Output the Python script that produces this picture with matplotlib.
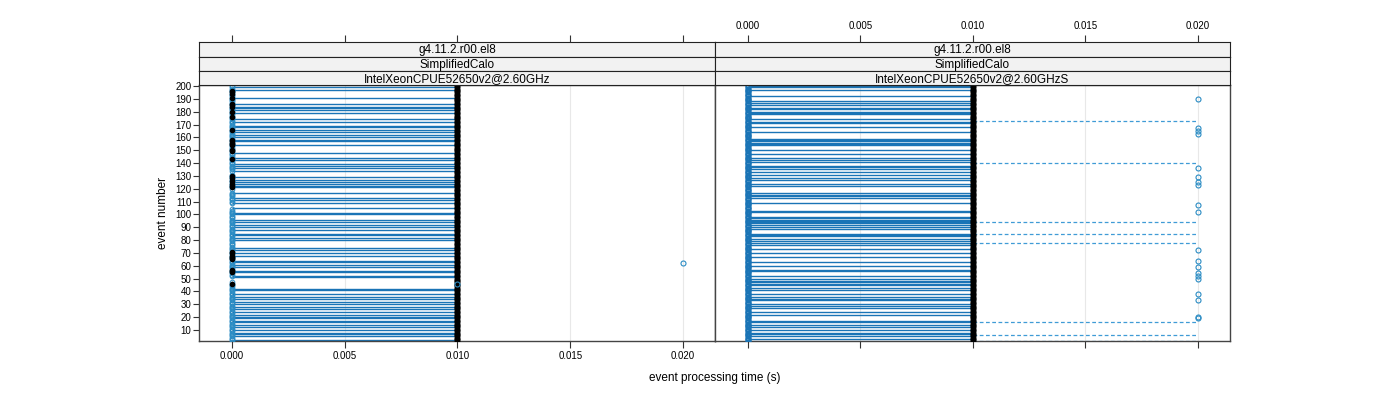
import numpy as np
import matplotlib.pyplot as plt

plt.rcParams['font.family'] = ['Liberation Sans', 'DejaVu Sans']

# ---- data ----
events = list(range(1, 201))
strip_labels = [
    ["g4.11.2.r00.el8", "SimplifiedCalo", "IntelXeonCPUE52650v2@2.60GHz"],
    ["g4.11.2.r00.el8", "SimplifiedCalo", "IntelXeonCPUE52650v2@2.60GHzS"],
]
xticks = [0.000, 0.005, 0.010, 0.015, 0.020]
yticks = list(range(10, 201, 10))

# left panel
left_line_events = [199, 197, 191, 186, 184, 183, 181, 179, 174, 172, 169, 168, 166, 164,
                    162, 160, 158, 157, 154, 148, 144, 142, 139, 138, 136, 134, 129, 127,
                    125, 124, 122, 121, 117, 113, 111, 109, 105, 101, 100, 96, 94, 92, 90,
                    88, 85, 84, 82, 80, 74, 72, 70, 68, 64, 63, 61, 59, 56, 55, 52, 51,
                    42, 41, 38, 36, 34, 32, 30, 28, 26, 24, 22, 20, 19, 17, 16, 14, 12,
                    10, 8, 7, 5, 2]
left_blue_gaps = [132, 133, 118, 119, 105, 106, 107, 108, 48, 49, 50, 51]
left_black_zero = [196, 195, 194, 191, 186, 185, 184, 180, 176, 166, 158, 157, 156, 155,
                   154, 150, 149, 143, 130, 128, 126, 124, 122, 121, 71, 70, 68, 67, 66,
                   65, 57, 56, 55, 46]
left_out_x = [0.020, 0.010]
left_out_y = [62, 46]

# right panel
right_line_events = [200, 199, 197, 192, 188, 187, 185, 183, 182, 180, 179, 178, 174, 172,
                     171, 168, 164, 159, 158, 157, 156, 155, 154, 150, 147, 144, 142, 141,
                     138, 137, 135, 133, 131, 128, 127, 124, 122, 117, 115, 114, 113, 109,
                     103, 102, 98, 97, 96, 95, 94, 93, 92, 90, 89, 85, 84, 83, 81, 79, 78,
                     76, 73, 70, 67, 63, 60, 57, 56, 52, 50, 48, 47, 46, 45, 43, 41, 38,
                     36, 34, 33, 30, 29, 27, 24, 22, 17, 16, 14, 12, 10, 8, 7, 5, 3]
right_dashed_events = [173, 140, 94, 85, 78, 16, 6, 1.5]
right_out_y = [190, 167, 165, 163, 136, 129, 125, 123, 107, 102, 72, 64, 59, 54, 52, 50,
               38, 33, 20, 19]

# ---- layout (pixel boxes of the reference) ----
W, H = 1400, 400


def box(x0, y0, x1, y1):
    return [x0 / W, 1 - y1 / H, (x1 - x0) / W, (y1 - y0) / H]


LINE = '#1a74b6'
PT = '#2b8cc4'
FRAME = '#444444'
XLIM = (-0.00146, 0.02142)
YLIM = (1.43, 200.78)

fig = plt.figure(figsize=(14, 4), dpi=100)

panel_x = [(199, 715), (715, 1230)]
strip_y = [(42, 56.7), (56.7, 71), (71, 85)]
axes = []
for i, (x0, x1) in enumerate(panel_x):
    ax = fig.add_axes(box(x0, 85, x1, 341))
    ax.set_xlim(XLIM)
    ax.set_ylim(YLIM)
    for xv in xticks:
        ax.axvline(xv, color='#e8e8e8', lw=0.8, zorder=0)
    for s in ax.spines.values():
        s.set_color(FRAME)
        s.set_linewidth(1.0)
    ax.set_xticks(xticks)
    ax.tick_params(axis='x', direction='out', length=5, width=0.8, color='#333333',
                   labelsize=7, pad=2, top=False, bottom=True, labelbottom=(i == 0))
    if i == 0:
        ax.set_yticks(yticks)
        ax.tick_params(axis='y', direction='out', length=4, width=0.8, color='#333333',
                       labelsize=7, pad=1.5)
    else:
        ax.set_yticks([])
    ax.set_xticklabels(['%.3f' % v for v in xticks])
    axes.append(ax)

    # strips
    for j, (y0, y1) in enumerate(strip_y):
        sa = fig.add_axes(box(x0, y0, x1, y1))
        sa.set_facecolor('#f2f2f2')
        sa.set_xticks([])
        sa.set_yticks([])
        for s in sa.spines.values():
            s.set_color('#222222')
            s.set_linewidth(0.8)
        sa.text(0.5, 0.45, strip_labels[i][j], ha='center', va='center', fontsize=8.5,
                transform=sa.transAxes)

    # top tick marks (above the strips)
    ta = fig.add_axes(box(x0, 42, x1, 341))
    ta.set_xlim(XLIM)
    ta.patch.set_visible(False)
    for s in ta.spines.values():
        s.set_visible(False)
    ta.set_yticks([])
    ta.xaxis.tick_top()
    ta.set_xticks(xticks)
    ta.set_xticklabels(['%.3f' % v for v in xticks])
    ta.tick_params(axis='x', direction='out', length=5, width=0.8, color='#333333',
                   labelsize=7, pad=3, labeltop=(i == 1))

axL, axR = axes

# left panel marks
axL.hlines(left_line_events, 0.0, 0.01, colors=LINE, lw=1.0, zorder=2)
blue_zero_L = [e for e in events if e not in left_blue_gaps]
axL.plot([0.0] * len(blue_zero_L), blue_zero_L, 'o', ms=3.4, mfc='none', mec=PT, mew=0.7,
         zorder=3)
axL.plot([0.0] * len(left_black_zero), left_black_zero, 'o', ms=3.0, color='black',
         zorder=4)
axL.plot([0.01] * len(events), events, 'o', ms=3.2, color='black', zorder=4)
axL.plot(left_out_x, left_out_y, 'o', ms=3.6, mfc='none', mec=PT, mew=0.8, zorder=5)

# right panel marks
axR.hlines(right_line_events, 0.0, 0.01, colors=LINE, lw=1.0, zorder=2)
axR.hlines(right_dashed_events, 0.01, 0.02, colors='#3f9bd6', lw=0.9,
           linestyles=(0, (3, 2)), zorder=2)
axR.plot([0.0] * len(events), events, 'o', ms=3.4, mfc='none', mec=LINE, mew=1.0, zorder=3)
axR.plot([0.01] * len(events), events, 'o', ms=3.2, color='black', zorder=4)
axR.plot([0.02] * len(right_out_y), right_out_y, 'o', ms=3.6, mfc='none', mec=PT, mew=0.8,
         zorder=5)

fig.text(715 / W, 1 - 378 / H, 'event processing time (s)', ha='center', va='center',
         fontsize=8.5)
fig.text(163 / W, 1 - 213 / H, 'event number', ha='center', va='center', rotation=90,
         fontsize=8.5)

fig.savefig('out.png', dpi=100)
